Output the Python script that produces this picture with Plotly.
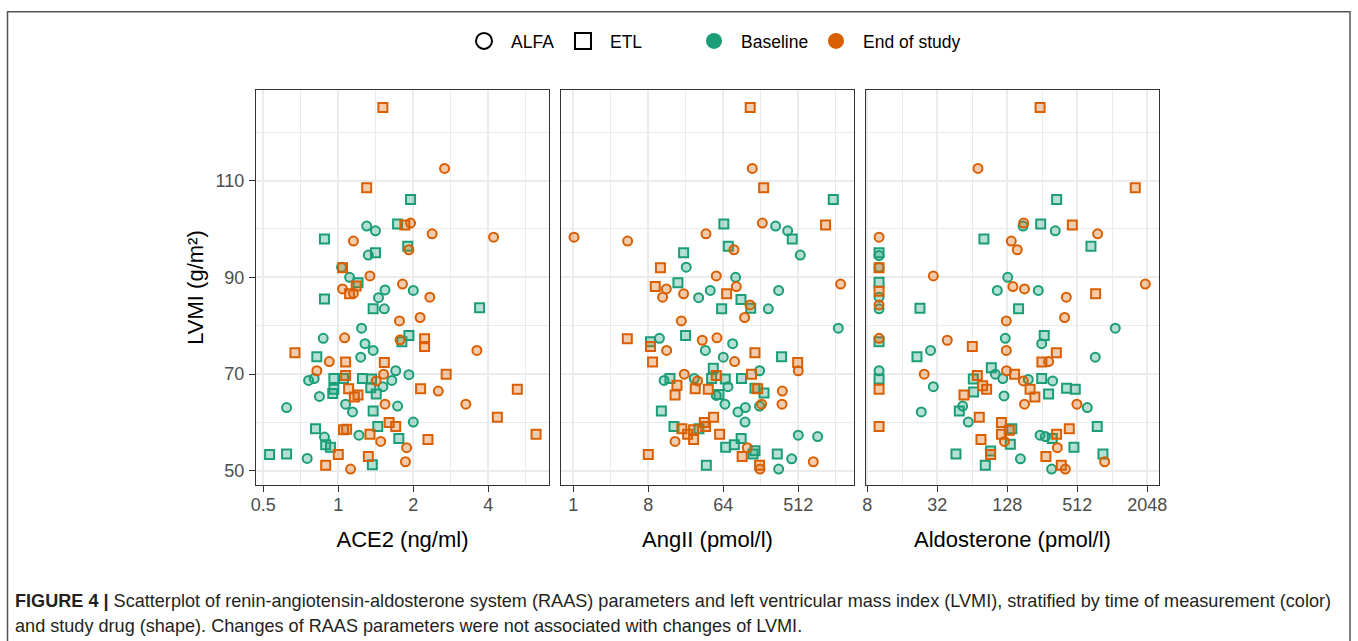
import plotly.graph_objects as go

# ---------------- data ----------------
# group code: first letter = drug (A = ALFA, E = ETL), second = time (B = Baseline, S = End of study)
ace2 = [1.51, 2.67, 1.30, 1.95, 1.30, 1.41, 1.73, 1.85, 1.95, 2.38, 4.20, 0.88, 1.15, 1.90, 1.92, 1.32, 1.41, 1.03, 1.04, 1.11,
        1.34, 1.20, 1.04, 1.11, 1.15, 1.18, 1.54, 1.45, 1.81, 2.00, 2.33, 0.88, 1.38, 1.53, 3.69, 1.76, 2.13, 1.24, 0.87, 1.06,
        1.28, 1.38, 1.77, 1.80, 1.92, 2.22, 2.22, 3.60, 0.67, 0.82, 1.23, 0.92, 1.07, 1.53, 0.82, 0.76, 0.80, 0.96, 1.07, 1.05,
        1.25, 1.36, 1.42, 1.52, 1.70, 1.64, 1.92, 2.71, 0.96, 0.95, 0.84, 1.10, 1.16, 1.20, 1.35, 1.42, 1.51, 2.14, 2.52, 5.23,
        0.62, 1.07, 1.14, 1.38, 1.54, 1.73, 3.25, 4.35, 0.81, 0.88, 0.89, 0.93, 1.05, 1.08, 1.21, 1.34, 1.44, 1.48, 1.60, 1.70,
        1.75, 2.00, 1.88, 2.29, 6.22, 0.53, 0.62, 0.75, 1.00, 0.89, 1.12, 1.32, 1.37, 1.86]
ace2_lvmi = [125.1, 112.5, 108.5, 106.1, 100.6, 99.6, 101.0, 100.8, 101.2, 99.0, 98.3, 97.9, 97.5, 96.4, 95.7, 94.6, 95.1, 92.1, 92.0, 90.0,
             90.3, 88.9, 87.6, 86.6, 86.7, 88.2, 87.4, 85.8, 88.6, 87.3, 85.9, 85.5, 83.5, 83.5, 83.7, 81.0, 81.7, 79.5, 77.4, 77.5,
             76.3, 74.9, 77.1, 76.7, 78.0, 77.3, 75.7, 74.9, 74.4, 73.6, 73.5, 72.6, 72.5, 72.4, 70.7, 68.7, 69.1, 69.1, 69.7, 69.1,
             69.1, 69.0, 68.6, 70.0, 70.7, 68.7, 69.9, 70.0, 66.9, 66.0, 65.4, 67.0, 65.3, 65.7, 67.2, 65.9, 67.4, 67.0, 66.5, 66.9,
             63.1, 63.8, 62.2, 62.4, 63.8, 63.4, 63.8, 61.1, 58.7, 57.0, 55.4, 54.9, 58.5, 58.6, 57.4, 57.6, 59.2, 56.1, 60.0, 59.2,
             56.7, 60.1, 54.8, 56.5, 57.6, 53.4, 53.5, 52.6, 53.4, 51.2, 50.4, 53.0, 51.3, 51.9]
ace2_group = ["ES", "AS", "ES", "EB", "AB", "AB", "EB", "ES", "AS", "AS", "AS", "EB", "AS", "EB", "AS", "AB", "EB", "AB", "ES", "AB",
              "AS", "EB", "AS", "ES", "AS", "ES", "AB", "AB", "AS", "AB", "AS", "EB", "EB", "AB", "EB", "AS", "AS", "AB", "AB", "AS",
              "AB", "AB", "AS", "EB", "EB", "ES", "ES", "AS", "ES", "EB", "AB", "AS", "ES", "ES", "AS", "AB", "AB", "EB", "ES", "EB",
              "EB", "EB", "AS", "AS", "AB", "AB", "AB", "ES", "EB", "EB", "AB", "ES", "ES", "ES", "EB", "EB", "AB", "ES", "AS", "ES",
              "AB", "AB", "AB", "EB", "AS", "AB", "AS", "ES", "EB", "AB", "EB", "EB", "ES", "ES", "AB", "ES", "EB", "AS", "ES", "ES",
              "EB", "AB", "AS", "ES", "ES", "EB", "EB", "AB", "ES", "ES", "AS", "ES", "EB", "AS"]

angii = [135, 143, 196, 1351, 65, 189, 273, 381, 433, 1091, 1.02, 4.51, 39.6, 73.5, 86, 541, 21.3, 22.9, 11.2, 52.7,
         90, 9.7, 13.2, 11.9, 18.2, 21.3, 32.3, 44.6, 70.2, 91.8, 104.5, 134, 61.1, 137, 115.6, 223, 297, 1654, 20.0, 1552,
         4.47, 8.5, 8.5, 10.9, 22.5, 35.7, 53.7, 82.9, 13.3, 38.9, 154, 322, 9.0, 64, 87.6, 503, 512, 48.5, 12.4, 14.6,
         21.7, 28.6, 31.4, 46.3, 52.7, 67.6, 72.8, 106, 140, 175, 17.7, 16.8, 29.4, 42.2, 52.7, 56.8, 154, 166, 198, 329,
         11.5, 67, 96.1, 118, 175, 185, 326, 117, 48.9, 37.8, 39.2, 16.3, 20.3, 23.8, 28.1, 28.1, 32.6, 57.8, 16.8, 512,
         875, 68.3, 86.9, 105, 124.5, 154, 146, 108, 8.0, 40, 286, 426, 776, 175, 177, 297]
angii_lvmi = [125.1, 112.5, 108.5, 106.1, 101.0, 101.2, 100.6, 99.6, 97.9, 100.8, 98.3, 97.5, 99.0, 96.4, 95.7, 94.6, 95.1, 92.1, 92.0, 90.3,
              90.0, 88.1, 87.6, 85.9, 88.9, 86.6, 85.8, 87.3, 86.6, 88.1, 85.4, 84.3, 83.5, 83.6, 81.7, 83.5, 87.3, 88.6, 81.0, 79.5,
              77.3, 76.7, 75.7, 77.4, 78.0, 77.0, 77.5, 76.3, 74.9, 74.9, 74.4, 73.6, 72.5, 73.5, 72.6, 72.4, 70.7, 71.2, 68.7, 69.1,
              70.0, 69.1, 68.6, 69.1, 69.7, 69.0, 67.4, 69.1, 70.0, 70.7, 67.7, 65.7, 67.0, 66.9, 65.6, 65.8, 67.1, 67.0, 66.1, 66.5,
              62.4, 63.8, 62.2, 63.1, 63.4, 63.8, 63.8, 60.1, 61.1, 60.0, 59.2, 59.2, 58.7, 57.6, 58.5, 56.5, 58.7, 57.6, 56.1, 57.4,
              57.1, 54.9, 55.4, 56.7, 54.8, 54.2, 53.5, 53.0, 53.4, 51.2, 53.5, 52.5, 51.9, 51.2, 50.4, 50.4]
angii_group = ["ES", "AS", "ES", "EB", "EB", "AS", "AB", "AB", "EB", "ES", "AS", "AS", "AS", "EB", "AS", "AB", "EB", "AB", "ES", "AS",
               "AB", "ES", "AS", "AS", "EB", "AS", "AB", "AB", "ES", "AS", "EB", "AS", "EB", "EB", "AS", "AB", "AB", "AS", "AS", "AB",
               "ES", "EB", "ES", "AB", "EB", "AS", "AS", "AB", "AS", "AB", "ES", "EB", "ES", "AB", "AS", "ES", "AS", "EB", "AB", "EB",
               "AS", "AB", "AS", "EB", "ES", "EB", "AB", "EB", "ES", "AB", "ES", "ES", "ES", "ES", "AB", "EB", "EB", "ES", "EB", "AS",
               "EB", "AB", "AB", "AB", "AB", "AS", "AS", "AB", "ES", "ES", "ES", "EB", "ES", "ES", "ES", "ES", "EB", "ES", "AS", "AB",
               "AB", "EB", "EB", "EB", "AS", "EB", "EB", "ES", "ES", "EB", "EB", "AB", "AS", "ES", "AS", "AB"]

aldo = [245, 71.6, 1614, 340, 177, 175, 248, 331, 464, 766, 10.1, 80.6, 138.5, 156, 671, 10.1, 10.1, 10.1, 10.1, 29.6,
        10.1, 10.1, 10.1, 10.1, 10.1, 22.7, 129, 143, 180, 105, 236.5, 412, 736, 1969, 160, 398, 125.5, 1086, 10.1, 10.1,
        39, 123, 266, 253, 64, 125.5, 28.0, 21.4, 338, 254, 290, 731, 10.1, 10.1, 10.1, 24.7, 29.6, 93.3, 101, 117,
        126, 148, 176, 194, 201, 253, 314, 70.7, 65.3, 78.5, 85, 65.7, 54.3, 120, 221, 290, 414, 492, 23.3, 49.5,
        52.9, 59.1, 180, 508, 624, 73.5, 114, 140, 133, 114, 121, 136, 76, 437, 760, 245, 272, 312, 340, 345,
        479, 10.1, 46.3, 82.8, 92, 92, 166, 275, 308, 373, 404, 851, 880]
aldo_lvmi = [125.1, 112.5, 108.5, 106.1, 101.2, 100.6, 101.0, 99.6, 100.8, 99.0, 98.3, 97.9, 97.5, 95.7, 96.4, 95.1, 94.5, 92.0, 92.1, 90.3,
             89.0, 87.1, 85.9, 84.3, 83.5, 83.6, 90.0, 88.1, 87.6, 87.3, 87.3, 85.9, 86.6, 88.6, 83.5, 81.7, 81.0, 79.5, 77.4, 76.7,
             77.0, 77.4, 78.0, 76.3, 75.7, 74.9, 74.9, 73.6, 74.4, 72.5, 72.6, 73.5, 70.7, 69.0, 66.9, 70.0, 67.4, 71.3, 70.0, 69.1,
             70.7, 70.0, 68.6, 68.9, 66.9, 69.1, 68.6, 69.7, 69.0, 67.6, 66.9, 66.3, 65.7, 65.5, 65.3, 65.9, 67.1, 66.9, 62.2, 62.4,
             63.4, 60.1, 63.8, 63.8, 63.1, 61.1, 60.0, 58.7, 58.4, 57.6, 56.1, 55.5, 56.5, 58.7, 59.2, 57.4, 57.1, 56.7, 57.6, 54.8,
             54.9, 59.2, 53.5, 51.2, 54.1, 53.4, 52.5, 53.0, 50.4, 51.2, 50.4, 53.5, 51.9]
aldo_group = ["ES", "AS", "ES", "EB", "AS", "AB", "EB", "AB", "ES", "AS", "AS", "EB", "AS", "AS", "EB", "EB", "AB", "ES", "AB", "AS",
              "EB", "ES", "AB", "AS", "AB", "EB", "AB", "AS", "AS", "AB", "AB", "AS", "ES", "AS", "EB", "AS", "AS", "AB", "AS", "EB",
              "AS", "AB", "EB", "AB", "ES", "AS", "AB", "EB", "ES", "ES", "AS", "AB", "AB", "EB", "ES", "AS", "AB", "EB", "AB", "AB",
              "AS", "ES", "AS", "AB", "ES", "EB", "AB", "ES", "EB", "ES", "ES", "EB", "ES", "AB", "ES", "EB", "EB", "EB", "AB", "EB",
              "AB", "AB", "AS", "AS", "AB", "ES", "ES", "EB", "ES", "ES", "AS", "EB", "ES", "ES", "EB", "AB", "AB", "EB", "ES", "AS",
              "EB", "ES", "EB", "EB", "EB", "ES", "AB", "ES", "AB", "ES", "AS", "EB", "AS"]

drug_names = {"A": "ALFA", "E": "ETL"}
time_names = {"B": "Baseline", "S": "End of study"}
x_titles = ["ACE2 (ng/ml)", "AngII (pmol/l)", "Aldosterone (pmol/l)"]
x_tickvals = [[0.5, 1, 2, 4], [1, 8, 64, 512], [8, 32, 128, 512, 2048]]
x_minorvals = [[0.7071, 1.4142, 2.8284, 5.6569], [2.83, 22.6, 181, 1448], [16, 64, 256, 1024]]
x_ranges_log10 = [[-0.3303, 0.8457], [-0.148, 3.380], [0.892, 3.412]]
y_tickvals = [50, 70, 90, 110]
y_minorvals = [60, 80, 100, 120]
y_range = [47.1, 128.7]

# ---------------- styling ----------------
W, H = 1358, 641
FONT = "Liberation Sans, Arial, sans-serif"
COL = {"B": "#1b9e77", "S": "#d95f02"}
FILL = {"B": "rgba(27,158,119,0.32)", "S": "rgba(217,95,2,0.32)"}
SYM = {"A": "circle", "E": "square"}

panel_px = [(256, 549), (561, 854), (866, 1159)]
top_px, bot_px = 90, 485
ydom = [1 - bot_px / H, 1 - top_px / H]

fig = go.Figure()

panels = [(ace2, ace2_lvmi, ace2_group), (angii, angii_lvmi, angii_group), (aldo, aldo_lvmi, aldo_group)]
for i, (xs, ys, gs) in enumerate(panels):
    xa = "x" if i == 0 else f"x{i+1}"
    ya = "y" if i == 0 else f"y{i+1}"
    for t in ["B", "S"]:
        for d in ["A", "E"]:
            px = [x for x, g in zip(xs, gs) if g == d + t]
            py = [y for y, g in zip(ys, gs) if g == d + t]
            fig.add_trace(go.Scatter(
                x=px, y=py, mode="markers", xaxis=xa, yaxis=ya, showlegend=False,
                marker=dict(symbol=SYM[d], size=9, color=FILL[t],
                            line=dict(color=COL[t], width=2)),
                hoverinfo="x+y"))

# legend-only traces
for d, sym in [("A", "circle-open"), ("E", "square-open")]:
    fig.add_trace(go.Scatter(x=[None], y=[None], mode="markers", name=drug_names[d], legend="legend",
                             marker=dict(symbol=sym, size=16, color="black", line=dict(width=2, color="black"))))
for t, lg in [("B", "legend2"), ("S", "legend3")]:
    fig.add_trace(go.Scatter(x=[None], y=[None], mode="markers", name=time_names[t], legend=lg,
                             marker=dict(symbol="circle", size=16, color=COL[t])))

axis_common = dict(showline=True, mirror=True, linecolor="#333333", linewidth=1.2,
                   ticks="outside", ticklen=6, tickcolor="#333333", tickwidth=1.2,
                   showgrid=True, gridcolor="#ebebeb", gridwidth=1.6, zeroline=False,
                   automargin=False)

for i in range(3):
    key = "xaxis" if i == 0 else f"xaxis{i+1}"
    yk = "yaxis" if i == 0 else f"yaxis{i+1}"
    x0, x1 = panel_px[i]
    fig.layout[key] = dict(
        axis_common, type="log", domain=[x0 / W, x1 / W], anchor="y" if i == 0 else f"y{i+1}",
        range=x_ranges_log10[i], tickmode="array", tickvals=x_tickvals[i],
        ticktext=[str(v) for v in x_tickvals[i]],
        tickfont=dict(size=18, color="#4d4d4d", family=FONT),
        minor=dict(tickvals=x_minorvals[i], showgrid=True, gridcolor="#ebebeb", gridwidth=0.9, ticks=""),
        title=dict(text=x_titles[i], font=dict(size=22, color="black", family=FONT), standoff=17),
        ticklabelstandoff=-3)
    ydict = dict(axis_common, domain=ydom, anchor="x" if i == 0 else f"x{i+1}", range=y_range,
                 tickmode="array", tickvals=y_tickvals,
                 minor=dict(tickvals=y_minorvals, showgrid=True, gridcolor="#ebebeb", gridwidth=0.9, ticks=""))
    if i == 0:
        ydict.update(tickfont=dict(size=18, color="#4d4d4d", family=FONT),
                     title=dict(text="LVMI (g/m²)", font=dict(size=22, color="black", family=FONT), standoff=5),
                     ticklabelstandoff=1)
    else:
        ydict.update(showticklabels=False, ticks="", matches="y")
    fig.layout[yk] = ydict

legend_common = dict(orientation="h", y=1 - 41 / H, yanchor="middle", xanchor="left",
                     font=dict(size=17.5, family=FONT, color="black"), itemsizing="trace",
                     itemwidth=44, bgcolor="rgba(0,0,0,0)")
fig.update_layout(
    width=W, height=H, margin=dict(l=0, r=0, t=0, b=0, autoexpand=False),
    paper_bgcolor="white", plot_bgcolor="white",
    font=dict(family=FONT, color="black"),
    legend=dict(legend_common, x=457 / W, entrywidth=40),
    legend2=dict(legend_common, x=687 / W),
    legend3=dict(legend_common, x=809 / W),
    shapes=[dict(type="rect", xref="paper", yref="paper", x0=7.5 / W, x1=1350 / W,
                 y0=1 - 660 / H, y1=1 - 11.7 / H, line=dict(color="#555555", width=1.5),
                 fillcolor="rgba(0,0,0,0)", layer="below")],
    annotations=[
        dict(text="<b>FIGURE 4 |</b> Scatterplot of renin-angiotensin-aldosterone system (RAAS) parameters and left ventricular mass index (LVMI), stratified by time of measurement (color)",
             xref="paper", yref="paper", x=13 / W, y=1 - 601 / H, xanchor="left", yanchor="middle",
             showarrow=False, font=dict(size=18.1, family=FONT, color="#231f20")),
        dict(text="and study drug (shape). Changes of RAAS parameters were not associated with changes of LVMI.",
             xref="paper", yref="paper", x=13 / W, y=1 - 626 / H, xanchor="left", yanchor="middle",
             showarrow=False, font=dict(size=18.1, family=FONT, color="#231f20")),
    ],
)

fig.write_html("out.html", config={"displayModeBar": False},
               post_script="document.body.style.margin='0px';")
